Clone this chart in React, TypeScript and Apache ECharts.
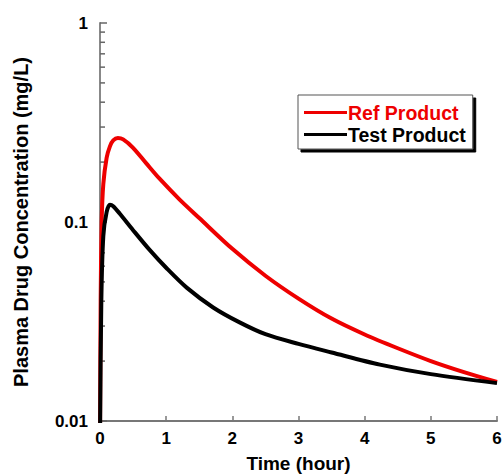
import React, { useEffect, useRef } from "react";
import * as echarts from "echarts";

const refTimes = [0, 0.01, 0.025, 0.05, 0.1, 0.15, 0.2, 0.27, 0.35, 0.5, 0.7, 0.9, 1.2, 1.5, 2.0, 2.5, 3.0, 3.5, 4.0, 4.5, 5.0, 5.5, 6.0];
const refValues = [0.008, 0.04, 0.1, 0.155, 0.21, 0.24, 0.257, 0.264, 0.26, 0.236, 0.197, 0.165, 0.13, 0.1047, 0.0733, 0.0537, 0.0412, 0.0327, 0.0272, 0.0232, 0.02, 0.0176, 0.0157];

const testTimes = [0, 0.02, 0.05, 0.1, 0.15, 0.2, 0.3, 0.5, 0.75, 1.0, 1.31, 1.71, 2.11, 2.5, 3.0, 3.5, 4.23, 5.0, 6.0];
const testValues = [0.008, 0.04, 0.085, 0.112, 0.122, 0.12, 0.11, 0.091, 0.0724, 0.0589, 0.0468, 0.0372, 0.0313, 0.0273, 0.0244, 0.0221, 0.0192, 0.0172, 0.0155];

const seriesNames = ["Ref Product", "Test Product"];
const seriesColors = ["#ee0000", "#000000"];
const xTicks = [0, 1, 2, 3, 4, 5, 6];
const yMajorTicks = [0.01, 0.1, 1];
const yMinorTicks = [0.02, 0.03, 0.04, 0.05, 0.06, 0.07, 0.08, 0.09, 0.2, 0.3, 0.4, 0.5, 0.6, 0.7, 0.8, 0.9];

const FONT = "'Liberation Sans', Arial, sans-serif";

export default function App() {
  const ref = useRef<HTMLDivElement>(null);
  useEffect(() => {
    const chart = echarts.init(ref.current!, null, { renderer: "svg" });
    const pair = (t: number[], v: number[]) => t.map((x, i) => [x, v[i]]);
    chart.setOption({
      animation: false,
      backgroundColor: "#ffffff",
      grid: { left: 100, right: 6, top: 23, bottom: 55, outerBoundsMode: "none", containLabel: false },
      legend: {
        left: 298,
        top: 95,
        orient: "vertical",
        icon: "rect",
        itemWidth: 43,
        itemHeight: 3,
        itemGap: 2,
        padding: [7.5, 7, 4.5, 6],
        backgroundColor: "#ffffff",
        borderColor: "#555555",
        borderWidth: 1,
        shadowColor: "#000000",
        shadowBlur: 0,
        shadowOffsetX: 3,
        shadowOffsetY: 3,
        textStyle: { fontFamily: FONT, fontWeight: "bold", fontSize: 19.5, lineHeight: 19, padding: [0, 0, 0, -4] },
        data: seriesNames.map((n, i) => ({ name: n, textStyle: { color: seriesColors[i] } })),
      },
      xAxis: {
        type: "value",
        min: 0,
        max: 6,
        interval: 1,
        name: "Time (hour)",
        nameLocation: "middle",
        nameGap: 33,
        nameTextStyle: { fontFamily: FONT, fontWeight: "bold", fontSize: 19, color: "#000" },
        axisLine: { lineStyle: { color: "#777777", width: 2 } },
        axisTick: { inside: true, length: 5, lineStyle: { color: "#777777", width: 1.5 } },
        axisLabel: {
          margin: 9,
          fontFamily: FONT,
          fontWeight: "bold",
          fontSize: 17,
          color: "#000",
          formatter: (v: number) => (xTicks.includes(v) ? String(v) : ""),
        },
        splitLine: { show: false },
      },
      yAxis: {
        type: "log",
        logBase: 10,
        min: yMajorTicks[0],
        max: yMajorTicks[yMajorTicks.length - 1],
        name: "Plasma Drug Concentration (mg/L)",
        nameLocation: "middle",
        nameGap: 69,
        nameTextStyle: { fontFamily: FONT, fontWeight: "bold", fontSize: 20, color: "#000" },
        axisLine: { show: true, lineStyle: { color: "#888888", width: 2 } },
        axisTick: { inside: true, length: 7, lineStyle: { color: "#666666", width: 1.5 } },
        axisLabel: {
          margin: 12,
          fontFamily: FONT,
          fontWeight: "bold",
          fontSize: 17,
          color: "#000",
          formatter: (v: number) => String(Number(v.toPrecision(3))),
        },
        splitLine: { show: false },
      },
      series: [
        {
          type: "custom",
          silent: true,
          clip: false,
          data: yMinorTicks.map((v) => [0, v]),
          renderItem: (params: any, api: any) => {
            const p = api.coord([api.value(0), api.value(1)]);
            return {
              type: "line",
              shape: { x1: p[0], y1: p[1], x2: p[0] + 5, y2: p[1] },
              style: { stroke: "#666666", lineWidth: 1.5 },
            };
          },
          z: 1,
        },
        {
          name: seriesNames[0],
          type: "line",
          data: pair(refTimes, refValues),
          smooth: 0.3,
          showSymbol: false,
          lineStyle: { color: seriesColors[0], width: 4 },
          itemStyle: { color: seriesColors[0] },
          z: 3,
        },
        {
          name: seriesNames[1],
          type: "line",
          data: pair(testTimes, testValues),
          smooth: 0.3,
          showSymbol: false,
          lineStyle: { color: seriesColors[1], width: 4 },
          itemStyle: { color: seriesColors[1] },
          z: 4,
        },
      ],
    });
    return () => chart.dispose();
  }, []);
  return <div ref={ref} style={{ width: 503, height: 476, position: "absolute", left: 0, top: 0 }} />;
}
